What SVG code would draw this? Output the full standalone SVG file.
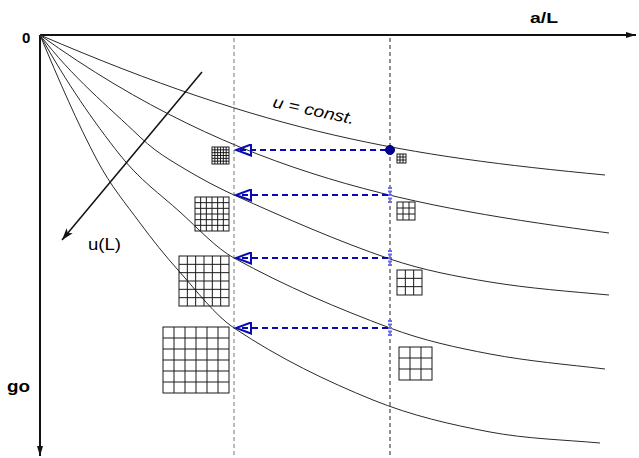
<svg xmlns="http://www.w3.org/2000/svg" width="639" height="458" viewBox="0 0 639 458">
<style>
.ax{stroke:#111;stroke-width:2;fill:none}
.cv{stroke:#2a2a2a;stroke-width:1;fill:none}
.vd{stroke-width:1;fill:none;stroke-dasharray:4 3}
.ba{stroke:#0a0ab4;stroke-width:2;fill:none;stroke-dasharray:6 4}
.tk{stroke:#6a6af4;stroke-width:4;stroke-dasharray:2 1.5;fill:none}
.gr{stroke:#1a1a1a;stroke-width:1;fill:none}
.lb{font-family:"Liberation Sans",Arial,sans-serif;fill:#000}
.b{font-weight:bold}
</style>
<defs>
<marker id="ah" viewBox="0 0 10 6" refX="10" refY="3" markerWidth="10" markerHeight="6" markerUnits="userSpaceOnUse" orient="auto">
<path d="M0,0 L10,3 L0,6 Z" fill="#111"/>
</marker>
<marker id="ahu" viewBox="0 0 12 8" refX="12" refY="4" markerWidth="12" markerHeight="8" markerUnits="userSpaceOnUse" orient="auto">
<path d="M0,0 L12,4 L0,8 L3,4 Z" fill="#111"/>
</marker>
<marker id="bh" viewBox="-1 -1 18 13" refX="15" refY="5.5" markerWidth="18" markerHeight="13" markerUnits="userSpaceOnUse" orient="auto">
<path d="M0,0 L15,5.5 L0,11 Z" fill="none" stroke="#0a0ab4" stroke-width="2"/>
</marker>
</defs>

<g id="axes">
<line class="ax" x1="40" y1="35" x2="636" y2="35" marker-end="url(#ah)"/>
<line class="ax" x1="40" y1="35" x2="40" y2="456" marker-end="url(#ah)"/>
<text class="lb b" x="22" y="43" font-size="15">0</text>
<text class="lb b" x="530" y="23" font-size="15" textLength="28" lengthAdjust="spacingAndGlyphs">a/L</text>
<text class="lb b" x="7" y="392" font-size="16" textLength="23" lengthAdjust="spacingAndGlyphs">go</text>
</g>

<g id="guides">
<line class="vd" x1="234" y1="38" x2="234" y2="458" stroke="#777"/>
<line class="vd" x1="390" y1="38" x2="390" y2="458" stroke="#222"/>
</g>

<g id="curves">
<path id="curve1" class="cv" d="M40,35 C270,134 405,156 605,175"/>
<path id="curve2" class="cv" d="M40,35 C240,179 419,207.5 609,233"/>
<path id="curve3" class="cv" d="M40,35 C73.3,78.3 106.7,105 140,137 C150,146.6 160,153.8 170,160 C191.3,173.2 212.7,185.4 234,195 C286,218.4 338,241.3 390,259 C423.3,270.3 456.7,276.5 490,282 C529.7,288.5 569.3,291.4 609,295"/>
<path id="curve4" class="cv" d="M40,35 C66.7,83 93.3,121.3 120,155 C140,180.3 160,193.9 180,212 C198,228.3 216,248.1 234,258 C286,286.7 338,308.5 390,328 C423.3,340.5 456.7,347.7 490,354 C528.3,361.3 566.7,364.4 605,369"/>
<path id="curve5" class="cv" d="M40,35 C59,80.6 78,124.3 97,160 C111.3,186.9 125.7,203.5 140,223 C152.7,240.2 165.3,255.9 178,270 C196.7,290.9 215.3,315.5 234,328 C280.3,358.9 326.7,381.2 373,400 C412,415.8 451,424.6 490,432 C526.7,438.9 563.3,439.7 600,443"/>
</g>

<g id="label-const">
<text class="lb" x="272" y="107" font-size="16" font-style="italic" textLength="83" lengthAdjust="spacingAndGlyphs" transform="rotate(12 272 107)">u = const.</text>
</g>

<g id="label-uL">
<text class="lb" x="88" y="250" font-size="16" textLength="33" lengthAdjust="spacingAndGlyphs">u(L)</text>
</g>

<g id="grid-L1">
<rect class="gr" x="212" y="147" width="17" height="17"/>
<path class="gr" d="M214.83,147V164M217.67,147V164M220.5,147V164M223.33,147V164M226.17,147V164M212,149.83H229M212,152.67H229M212,155.5H229M212,158.33H229M212,161.17H229"/>
</g>
<g id="grid-L2">
<rect class="gr" x="195" y="197" width="34" height="34"/>
<path class="gr" d="M200.67,197V231M206.33,197V231M212,197V231M217.67,197V231M223.33,197V231M195,202.67H229M195,208.33H229M195,214H229M195,219.67H229M195,225.33H229"/>
</g>
<g id="grid-L3">
<rect class="gr" x="179" y="256" width="50" height="50"/>
<path class="gr" d="M187.33,256V306M195.67,256V306M204,256V306M212.33,256V306M220.67,256V306M179,264.33H229M179,272.67H229M179,281H229M179,289.33H229M179,297.67H229"/>
</g>
<g id="grid-L4">
<rect class="gr" x="163" y="327" width="66" height="66"/>
<path class="gr" d="M174,327V393M185,327V393M196,327V393M207,327V393M218,327V393M163,338H229M163,349H229M163,360H229M163,371H229M163,382H229"/>
</g>
<g id="grid-R1">
<rect class="gr" x="397" y="154" width="9" height="9"/>
<path class="gr" d="M400,154V163M403,154V163M397,157H406M397,160H406"/>
</g>
<g id="grid-R2">
<rect class="gr" x="397" y="202" width="18" height="18"/>
<path class="gr" d="M403,202V220M409,202V220M397,208H415M397,214H415"/>
</g>
<g id="grid-R3">
<rect class="gr" x="397" y="270" width="25" height="25"/>
<path class="gr" d="M405.33,270V295M413.67,270V295M397,278.33H422M397,286.67H422"/>
</g>
<g id="grid-R4">
<rect class="gr" x="399" y="347" width="33" height="33"/>
<path class="gr" d="M410,347V380M421,347V380M399,358H432M399,369H432"/>
</g>

<g id="connectors">
<line x1="202" y1="72" x2="62" y2="240" stroke="#111" stroke-width="1.5" marker-end="url(#ahu)"/>
<line class="ba" x1="386" y1="150" x2="236" y2="150" marker-end="url(#bh)"/>
<line class="ba" x1="388" y1="195" x2="236" y2="195" marker-end="url(#bh)"/>
<line class="ba" x1="388" y1="258" x2="236" y2="258" marker-end="url(#bh)"/>
<line class="ba" x1="388" y1="328" x2="236" y2="328" marker-end="url(#bh)"/>
<circle cx="390" cy="150" r="4.5" fill="#0000a0" stroke="#000050" stroke-width="1"/>
<line class="tk" x1="390" y1="187" x2="390" y2="204"/>
<line class="tk" x1="390" y1="250" x2="390" y2="267"/>
<line class="tk" x1="390" y1="320" x2="390" y2="337"/>
</g>
</svg>
